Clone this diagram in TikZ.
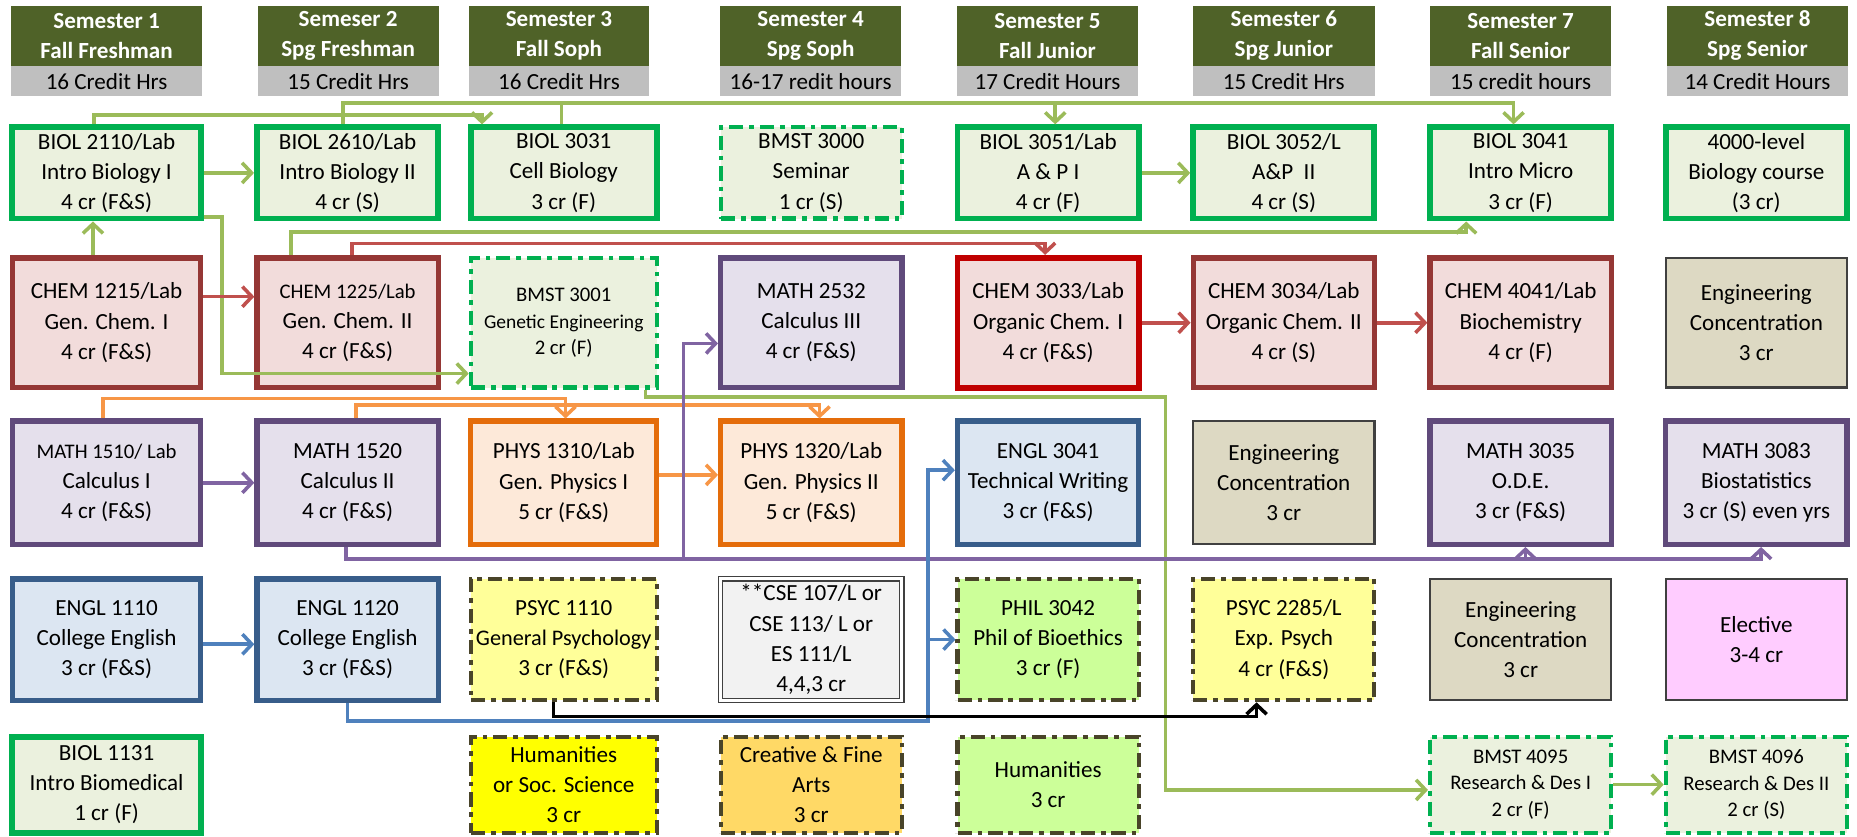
\documentclass[tikz,border=0pt]{standalone}
\usepackage{fontspec}
\setmainfont{Carlito}
\usetikzlibrary{arrows.meta, positioning}
\definecolor{hdgreen}{RGB}{79, 98, 40}
\definecolor{hdgrey}{RGB}{191, 191, 191}
\definecolor{biogreen}{RGB}{0, 176, 80}
\definecolor{biofill}{RGB}{235, 241, 222}
\definecolor{chemred}{RGB}{149, 55, 53}
\definecolor{chembright}{RGB}{192, 0, 0}
\definecolor{chemfill}{RGB}{242, 220, 219}
\definecolor{mathpurple}{RGB}{96, 74, 123}
\definecolor{mathfill}{RGB}{229, 224, 236}
\definecolor{physorange}{RGB}{228, 108, 10}
\definecolor{physfill}{RGB}{253, 233, 217}
\definecolor{englblue}{RGB}{56, 93, 138}
\definecolor{englfill}{RGB}{220, 230, 242}
\definecolor{engrfill}{RGB}{221, 217, 195}
\definecolor{boxgrey}{RGB}{64, 64, 64}
\definecolor{olivedash}{RGB}{73, 68, 41}
\definecolor{psycfill}{RGB}{255, 255, 153}
\definecolor{humfill}{RGB}{255, 255, 0}
\definecolor{artsfill}{RGB}{255, 217, 102}
\definecolor{philfill}{RGB}{204, 255, 153}
\definecolor{csefill}{RGB}{242, 242, 242}
\definecolor{electfill}{RGB}{255, 204, 255}
\definecolor{arrowgreen}{RGB}{155, 187, 89}
\definecolor{arrowred}{RGB}{192, 80, 77}
\definecolor{arroworange}{RGB}{247, 150, 70}
\definecolor{arrowpurple}{RGB}{128, 100, 162}
\definecolor{arrowblue}{RGB}{79, 129, 189}
\newcommand{\smallline}{\fontsize{17.5}{25.5}\selectfont}

\begin{document}
\begin{tikzpicture}[
  x = 1pt, y = -1pt,
  node distance = 0pt,
  >={Straight Barb[length=8pt, width=17pt]},
  every node/.style = {
    font = \fontsize{19.5}{25.5}\selectfont
  },
  sem/.style = {
    rectangle,
    fill = hdgreen,
    text = white,
    font = \bfseries\fontsize{19.5}{25.4}\selectfont,
    align = center,
    inner sep = 0pt,
    minimum height = 50.5pt
  },
  hrs/.style = {
    rectangle,
    fill = hdgrey,
    inner sep = 0pt,
    minimum height = 25.5pt
  },
  course/.style = {
    rectangle,
    line width = 4.5pt,
    align = center,
    inner sep = 0pt,
    minimum width = 153pt
  },
  widecol/.style = {minimum width = 159pt},
  midcol/.style = {minimum width = 157pt},
  row1/.style = {minimum height = 77pt},
  row2/.style = {minimum height = 109.5pt},
  row3/.style = {minimum height = 104pt},
  row4/.style = {minimum height = 102.5pt},
  row5/.style = {minimum height = 81pt},
  biobox/.style = {course, draw = biogreen, fill = biofill, line width = 5pt},
  bmstbox/.style = {course, draw = biogreen, fill = biofill, line width = 3.5pt,
    dash pattern = on 12pt off 5pt on 4pt off 5pt},
  chembox/.style = {course, draw = chemred, fill = chemfill},
  mathbox/.style = {course, draw = mathpurple, fill = mathfill},
  physbox/.style = {course, draw = physorange, fill = physfill},
  englbox/.style = {course, draw = englblue, fill = englfill},
  engrbox/.style = {course, draw = boxgrey, fill = engrfill, line width = 2pt},
  genedbox/.style = {course, draw = olivedash, line width = 3.5pt,
    dash pattern = on 12pt off 5pt on 4pt off 5pt},
  csebox/.style = {course, draw = boxgrey, fill = csefill, line width = 1pt,
    double = white, double distance = 2.5pt},
  electbox/.style = {course, draw = boxgrey, fill = electfill, line width = 2pt},
  smalltext/.style = {font = \fontsize{17.5}{22.5}\selectfont},
  garrow/.style = {->, draw = arrowgreen, line width = 3pt},
  gline/.style = {draw = arrowgreen, line width = 3pt},
  rarrow/.style = {->, draw = arrowred, line width = 3pt},
  oarrow/.style = {->, draw = arroworange, line width = 3pt},
  parrow/.style = {->, draw = arrowpurple, line width = 3pt},
  barrow/.style = {->, draw = arrowblue, line width = 3pt},
  karrow/.style = {->, draw = black, line width = 3pt}
]
\useasboundingbox (0,0) rectangle (1568,706);

% Semester headers
\foreach \semx/\semw/\semname/\semterm/\semhrs [count=\i] in {
  90/161/Semester 1/Fall Freshman/16 Credit Hrs,
  294/153/Semeser 2/Spg Freshman/15 Credit Hrs,
  472/152/Semester 3/Fall Soph/16 Credit Hrs,
  684.5/153/Semester 4/Spg Soph/16-17 redit hours,
  884.5/153/Semester 5/Fall Junior/17 Credit Hours,
  1084/154/Semester 6/Spg Junior/15 Credit Hrs,
  1284/153/Semester 7/Fall Senior/15 credit hours,
  1484/153/Semester 8/Spg Senior/14 Credit Hours}
{
  \node[sem, minimum width=\semw pt] (sem\i) at (\semx,30.25) {\semname\\\semterm};
  \node[hrs, minimum width=\semw pt, below=of sem\i] (hrs\i) {\semhrs};
}

% Row 1
\node[biobox, row1, widecol] (b2110) at (90,146) {BIOL 2110/Lab\\Intro Biology I\\4 cr (F\&S)};
\node[biobox, row1] (b2610) at (293.5,146) {BIOL 2610/Lab\\Intro Biology II\\4 cr (S)};
\node[biobox, row1, midcol] (b3031) at (476,146) {BIOL 3031\\Cell Biology\\3 cr (F)};
\node[bmstbox, row1] (bm3000) at (685,146) {BMST 3000\\Seminar\\1 cr (S)};
\node[biobox, row1] (b3051) at (885,146) {BIOL 3051/Lab\\A \& P I\\4 cr (F)};
\node[biobox, row1] (b3052) at (1084,146) {BIOL 3052/L\\A\&P\ \ II\\4 cr (S)};
\node[biobox, row1] (b3041) at (1284,146) {BIOL 3041\\Intro Micro\\3 cr (F)};
\node[biobox, row1] (b4000) at (1483,146) {4000-level\\Biology course\\(3 cr)};

% Row 2
\node[chembox, row2, widecol] (c1215) at (90,272.5) {CHEM 1215/Lab\\Gen. Chem. I\\4 cr (F\&S)};
\node[chembox, row2] (c1225) at (293.5,272.5) {{\smallline CHEM 1225/Lab}\\Gen. Chem. II\\4 cr (F\&S)};
\node[bmstbox, row2, midcol, smalltext] (bm3001) at (476,272.5) {BMST 3001\\{\fontsize{16.5}{22.5}\selectfont Genetic Engineering}\\2 cr (F)};
\node[mathbox, row2] (m2532) at (685,272.5) {MATH 2532\\Calculus III\\4 cr (F\&S)};
\node[chembox, row2, draw=chembright, line width=5pt] (c3033) at (885,272.5) {CHEM 3033/Lab\\Organic Chem. I\\4 cr (F\&S)};
\node[chembox, row2] (c3034) at (1084,272.5) {CHEM 3034/Lab\\Organic Chem. II\\4 cr (S)};
\node[chembox, row2] (c4041) at (1284,272.5) {CHEM 4041/Lab\\Biochemistry\\4 cr (F)};
\node[engrbox, row2] (engr2) at (1483,272.5) {Engineering\\Concentration\\3 cr};

% Row 3
\node[mathbox, row3, widecol] (m1510) at (90,407.6) {{\smallline MATH 1510/ Lab}\\Calculus I\\4 cr (F\&S)};
\node[mathbox, row3] (m1520) at (293.5,407.6) {MATH 1520\\Calculus II\\4 cr (F\&S)};
\node[physbox, row3, midcol] (p1310) at (476,407.6) {PHYS 1310/Lab\\Gen. Physics I\\5 cr (F\&S)};
\node[physbox, row3] (p1320) at (685,407.6) {PHYS 1320/Lab\\Gen. Physics II\\5 cr (F\&S)};
\node[englbox, row3] (e3041) at (885,407.6) {ENGL 3041\\Technical Writing\\3 cr (F\&S)};
\node[engrbox, row3] (engr3) at (1084,407.6) {Engineering\\Concentration\\3 cr};
\node[mathbox, row3] (m3035) at (1284,407.6) {MATH 3035\\O.D.E.\\3 cr (F\&S)};
\node[mathbox, row3] (m3083) at (1483,407.6) {MATH 3083\\Biostatistics\\3 cr (S) even yrs};

% Row 4
\node[englbox, row4, widecol] (e1110) at (90,540) {ENGL 1110\\College English\\3 cr (F\&S)};
\node[englbox, row4] (e1120) at (293.5,540) {ENGL 1120\\College English\\3 cr (F\&S)};
\node[genedbox, row4, midcol, fill=psycfill] (ps1110) at (476,540) {PSYC 1110\\{\fontsize{18.8}{25.5}\selectfont General Psychology}\\3 cr (F\&S)};
\node[csebox, row4] (cse) at (685,540) {**CSE 107/L or\\CSE 113/ L or\\ES 111/L\\4,4,3 cr};
\node[genedbox, row4, fill=philfill] (ph3042) at (885,540) {PHIL 3042\\Phil of Bioethics\\3 cr (F)};
\node[genedbox, row4, fill=psycfill] (ps2285) at (1084,540) {PSYC 2285/L\\Exp. Psych\\4 cr (F\&S)};
\node[engrbox, row4] (engr4) at (1284,540) {Engineering\\Concentration\\3 cr};
\node[electbox, row4] (elect) at (1483,540) {Elective\\3-4 cr};

% Row 5
\node[biobox, row5, widecol] (b1131) at (90,662.5) {BIOL 1131\\Intro Biomedical\\1 cr (F)};
\node[genedbox, row5, midcol, fill=humfill] (hum1) at (476,662.5) {Humanities\\or Soc. Science\\3 cr};
\node[genedbox, row5, fill=artsfill] (arts) at (685,662.5) {Creative \& Fine\\Arts\\3 cr};
\node[genedbox, row5, fill=philfill] (hum2) at (885,662.5) {Humanities\\3 cr};
\node[bmstbox, row5, smalltext] (bm4095) at (1284,662.5) {BMST 4095\\Research \& Des I\\2 cr (F)};
\node[bmstbox, row5, smalltext] (bm4096) at (1483,662.5) {BMST 4096\\Research \& Des II\\2 cr (S)};

% Arrows
\draw[garrow] (b2110) -- (b2610);
\draw[garrow] ([xshift=-11.5pt]c1215.north) -- ([xshift=-11.5pt]b2110.south);
\draw[garrow] ([xshift=-10.5pt]b2110.north) -- ++(0,-8) -| ([xshift=-69pt]b3031.north);
\draw[gline] ([xshift=-2pt]b3031.north) -- ++(0,-18);
\draw[garrow] ([xshift=-4pt]b2610.north) -- ++(0,-18) -| ([xshift=-6pt]b3041.north);
\draw[garrow] ([xshift=6pt]b3051.north) ++(0,-18) -- ([xshift=6pt]b3051.north);
\draw[garrow] ([xshift=-48pt]c1225.north) -- ++(0,-19.5) -| ([xshift=-46pt]b3041.south);
\draw[garrow] ([yshift=4pt]b2110.south east) -- ++(15.6,0) |- ([yshift=-42.9pt]bm3001.west);
\draw[garrow] (b3051) -- (b3052);
\draw[garrow] ([xshift=69pt]bm3001.south) -- ++(0,6) -- ++(439,0) |- ([yshift=-4.5pt]bm4095.west);
\draw[garrow] (bm4095) -- (bm4096);

\draw[rarrow] ([yshift=22pt]c1215.east) -- ([yshift=22pt]c1225.west);
\draw[rarrow] ([xshift=3.5pt]c1225.north) -- ++(0,-10) -| ([xshift=-2.5pt]c3033.north);
\draw[rarrow] (c3033) -- (c3034);
\draw[rarrow] (c3034) -- (c4041);

\draw[oarrow] ([xshift=-3pt]m1510.north) -- ++(0,-17) -| ([xshift=1.5pt]p1310.north);
\draw[oarrow] ([xshift=7pt]m1520.north) -- ++(0,-11.5) -| ([xshift=7pt]p1320.north);
\draw[oarrow] ([yshift=6.6pt]p1310.east) -- ([yshift=6.6pt]p1320.west);

\draw[parrow] (m1510) -- (m1520);
\draw[parrow] ([xshift=-1.5pt]m1520.south) -- ++(0,10) -- ++(285,0) |- ([yshift=-17.5pt]m2532.west);
\draw[parrow] ([xshift=-1.5pt]m1520.south) -- ++(0,10) -| ([xshift=4pt]m3083.south);
\draw[parrow] ([xshift=4pt]m3035.south) ++(0,10) -- ([xshift=4pt]m3035.south);

\draw[barrow] ([yshift=-4pt]e1110.east) -- ([yshift=-4pt]e1120.west);
\draw[barrow] (e1120.south) -- ++(0,15.5) -- ++(490,0) |- ([yshift=10.6pt]e3041.west);
\draw[barrow] (e1120.south) ++(490,15.5) |- (ph3042.west);

\draw[karrow] ([xshift=-8.6pt]ps1110.south) -- ++(0,12) -| ([xshift=-23pt]ps2285.south);

\end{tikzpicture}
\end{document}
